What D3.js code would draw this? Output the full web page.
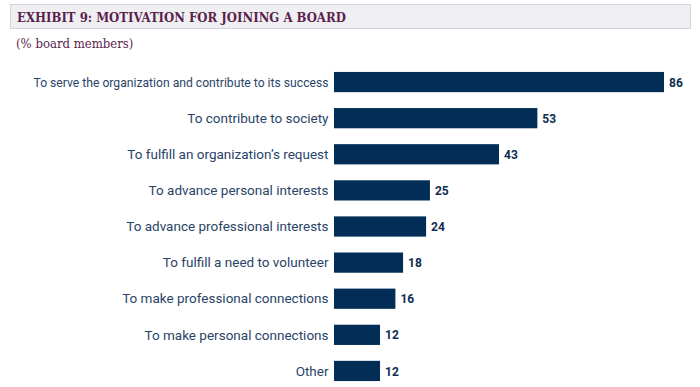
<!DOCTYPE html>
<html>
<head>
<meta charset="utf-8">
<script src="https://cdn.jsdelivr.net/npm/d3@7"></script>
<style>
  body { margin: 0; background: #fff; }
  svg { display: block; }
</style>
</head>
<body>
<div id="chart"></div>
<script>
var width = 700,
  height = 387;

var categories = [
  "To serve the organization and contribute to its success",
  "To contribute to society",
  "To fulfill an organization\u2019s request",
  "To advance personal interests",
  "To advance professional interests",
  "To fulfill a need to volunteer",
  "To make professional connections",
  "To make personal connections",
  "Other"
];
var values = [86, 53, 43, 25, 24, 18, 16, 12, 12];

var titleText = "EXHIBIT 9: MOTIVATION FOR JOINING A BOARD";
var subtitleText = "(% board members)";

var dataset = categories.map(function(c, i) {
  return { label: c, value: values[i] };
});

var svg = d3.select("#chart")
  .append("svg")
  .attr("width", width)
  .attr("height", height);

// title bar
svg.append("rect")
  .attr("x", 10.5)
  .attr("y", 4.5)
  .attr("width", 680)
  .attr("height", 24)
  .attr("fill", "#efeff1")
  .attr("stroke", "#d6d3de")
  .attr("stroke-width", 1);

svg.append("text")
  .attr("x", 17)
  .attr("y", 21.5)
  .attr("font-family", "DejaVu Serif Condensed, DejaVu Serif")
  .attr("font-weight", "bold")
  .attr("font-size", 13)
  .attr("fill", "#5b1f4f")
  .text(titleText);

svg.append("text")
  .attr("x", 16)
  .attr("y", 48)
  .attr("font-family", "DejaVu Serif Condensed, DejaVu Serif")
  .attr("font-size", 13)
  .attr("fill", "#5b1f4f")
  .text(subtitleText);

var x = d3.scaleLinear()
  .domain([0, 86])
  .range([334, 664]);

var y = d3.scaleBand()
  .domain(categories)
  .range([64, 389])
  .paddingInner(0.44)
  .paddingOuter(0.22);

svg.selectAll("rect.bar")
  .data(dataset)
  .enter()
  .append("rect")
  .attr("class", "bar")
  .attr("x", x(0))
  .attr("y", function(d) {
    return y(d.label);
  })
  .attr("width", function(d) {
    return x(d.value) - x(0);
  })
  .attr("height", y.bandwidth())
  .attr("fill", "#022d56");

var maxLabelWidth = 295;

svg.selectAll("text.cat")
  .data(dataset)
  .enter()
  .append("text")
  .attr("class", "cat")
  .attr("x", x(0) - 5.5)
  .attr("y", function(d) {
    return y(d.label) + y.bandwidth() / 2;
  })
  .attr("dy", "0.35em")
  .attr("text-anchor", "end")
  .attr("font-family", "Roboto")
  .attr("font-size", 13.5)
  .attr("fill", "#2a4468")
  .text(function(d) {
    return d.label;
  })
  .each(function() {
    // squeeze labels that would run past the left margin
    if (this.getComputedTextLength() > maxLabelWidth) {
      d3.select(this)
        .attr("textLength", maxLabelWidth)
        .attr("lengthAdjust", "spacingAndGlyphs");
    }
  });

svg.selectAll("text.val")
  .data(dataset)
  .enter()
  .append("text")
  .attr("class", "val")
  .attr("x", function(d) {
    return x(d.value) + 5;
  })
  .attr("y", function(d) {
    return y(d.label) + y.bandwidth() / 2;
  })
  .attr("dy", "0.38em")
  .attr("font-family", "Roboto")
  .attr("font-weight", "bold")
  .attr("font-size", 12)
  .attr("fill", "#0f2d52")
  .text(function(d) {
    return d.value;
  });
</script>
</body>
</html>
